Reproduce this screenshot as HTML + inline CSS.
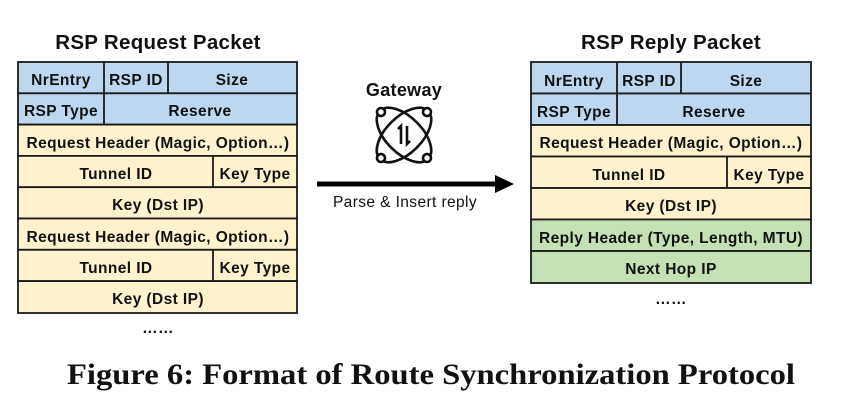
<!DOCTYPE html>
<html><head><meta charset="utf-8"><style>
html,body{margin:0;padding:0;background:#fff;}
svg{display:block}
</style></head><body>
<svg width="866" height="408" viewBox="0 0 866 408" xmlns="http://www.w3.org/2000/svg" font-family="Liberation Sans, Arial, sans-serif">
<g stroke="#1a1a1a" stroke-width="1.8">
<rect x="18" y="62" width="279" height="31.3" fill="#bdd7ee"/>
<rect x="18" y="93.3" width="279" height="31.3" fill="#bdd7ee"/>
<rect x="18" y="124.6" width="279" height="31.3" fill="#fff2cc"/>
<rect x="18" y="155.9" width="279" height="31.3" fill="#fff2cc"/>
<rect x="18" y="187.2" width="279" height="31.3" fill="#fff2cc"/>
<rect x="18" y="218.5" width="279" height="31.3" fill="#fff2cc"/>
<rect x="18" y="249.8" width="279" height="31.3" fill="#fff2cc"/>
<rect x="18" y="281.1" width="279" height="31.9" fill="#fff2cc"/>
<line x1="104" y1="62" x2="104" y2="124.6"/>
<line x1="168" y1="62" x2="168" y2="93.3"/>
<line x1="213" y1="155.9" x2="213" y2="187.2"/>
<line x1="213" y1="249.8" x2="213" y2="281.1"/>
<rect x="531" y="62" width="280" height="31.5" fill="#bdd7ee"/>
<rect x="531" y="93.5" width="280" height="31.5" fill="#bdd7ee"/>
<rect x="531" y="125" width="280" height="31.5" fill="#fff2cc"/>
<rect x="531" y="156.5" width="280" height="31.5" fill="#fff2cc"/>
<rect x="531" y="188" width="280" height="31.5" fill="#fff2cc"/>
<rect x="531" y="219.5" width="280" height="31.5" fill="#c5e0b4"/>
<rect x="531" y="251" width="280" height="32" fill="#c5e0b4"/>
<line x1="617" y1="62" x2="617" y2="125"/>
<line x1="681" y1="62" x2="681" y2="93.5"/>
<line x1="727" y1="156.5" x2="727" y2="188"/>
</g>
<g font-weight="bold" font-size="15.5" letter-spacing="0.4" text-anchor="middle" fill="#111">
<text x="158" y="49" font-size="20.5" letter-spacing="0.3">RSP Request Packet</text>
<text x="671" y="49" font-size="20.5" letter-spacing="0.3">RSP Reply Packet</text>
<text x="61" y="85">NrEntry</text>
<text x="136" y="85">RSP ID</text>
<text x="232" y="85">Size</text>
<text x="61" y="116">RSP Type</text>
<text x="200" y="116">Reserve</text>
<text x="158" y="148">Request Header (Magic, Option…)</text>
<text x="116" y="179">Tunnel ID</text>
<text x="255" y="179">Key Type</text>
<text x="158" y="210">Key (Dst IP)</text>
<text x="158" y="242">Request Header (Magic, Option…)</text>
<text x="116" y="273">Tunnel ID</text>
<text x="255" y="273">Key Type</text>
<text x="158" y="304">Key (Dst IP)</text>
<text x="158" y="333">……</text>
<text x="574" y="86">NrEntry</text>
<text x="649" y="86">RSP ID</text>
<text x="746" y="86">Size</text>
<text x="574" y="117">RSP Type</text>
<text x="714" y="117">Reserve</text>
<text x="671" y="148">Request Header (Magic, Option…)</text>
<text x="629" y="180">Tunnel ID</text>
<text x="769" y="180">Key Type</text>
<text x="671" y="211">Key (Dst IP)</text>
<text x="671" y="243">Reply Header (Type, Length, MTU)</text>
<text x="671" y="274">Next Hop IP</text>
<text x="671" y="304">……</text>
<text x="404" y="96" font-size="18" letter-spacing="0.3">Gateway</text>
</g>
<text x="405" y="207" text-anchor="middle" font-size="15.5" letter-spacing="0.4" fill="#111">Parse &amp; Insert reply</text>
<line x1="317" y1="184" x2="497" y2="184" stroke="#000" stroke-width="5"/>
<polygon points="495,175 514,184 495,193" fill="#000"/>
<g fill="none" stroke="#111" stroke-width="2.6">
<ellipse cx="404" cy="135" rx="34" ry="18" transform="rotate(45 404 135)"/>
<ellipse cx="404" cy="135" rx="34" ry="18" transform="rotate(-45 404 135)"/>
<circle cx="381" cy="112" r="4" fill="#fff"/>
<circle cx="427" cy="112" r="4" fill="#fff"/>
<circle cx="381" cy="158" r="4" fill="#fff"/>
<circle cx="427" cy="158" r="4" fill="#fff"/>
<path d="M398 129 L401 126 L401 144 M407 126 L407 144 L410 141"/>
</g>
<text x="67" y="384" textLength="728" lengthAdjust="spacingAndGlyphs" font-family="Liberation Serif, serif" font-weight="bold" font-size="30" fill="#111">Figure 6: Format of Route Synchronization Protocol</text>
</svg>
</body></html>
